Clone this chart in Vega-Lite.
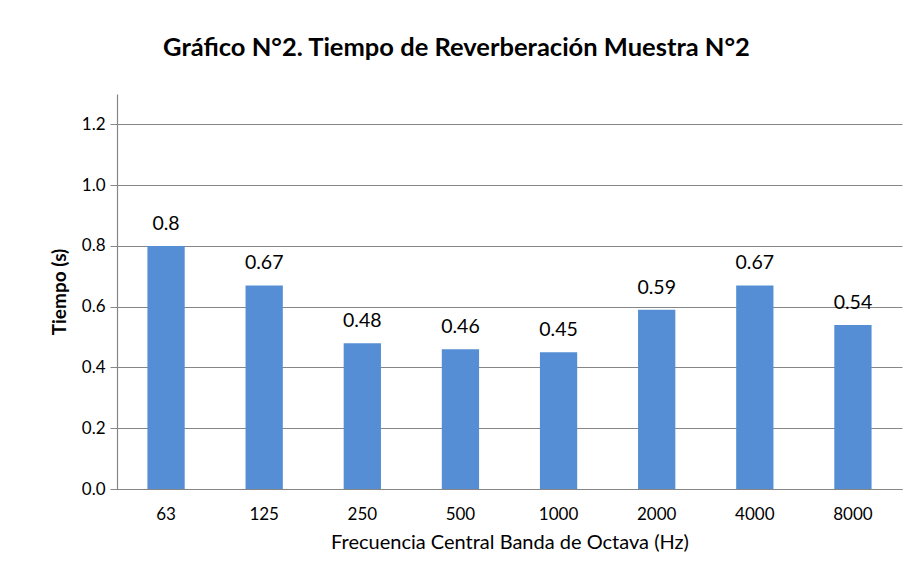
{
  "$schema": "https://vega.github.io/schema/vega-lite/v6.json",
  "autosize": "none",
  "width": 785,
  "height": 395,
  "padding": {"left": 117, "top": 94, "right": 12, "bottom": 91},
  "background": "white",
  "title": {
    "text": "Gráfico N°2. Tiempo de Reverberación Muestra N°2",
    "font": "Lato",
    "fontSize": 25.5,
    "fontWeight": "bold",
    "color": "#000000",
    "anchor": "middle",
    "frame": "group",
    "dx": -53,
    "offset": 33
  },
  "data": {
    "values": [
      {"freq": "63", "t": 0.8},
      {"freq": "125", "t": 0.67},
      {"freq": "250", "t": 0.48},
      {"freq": "500", "t": 0.46},
      {"freq": "1000", "t": 0.45},
      {"freq": "2000", "t": 0.59},
      {"freq": "4000", "t": 0.67},
      {"freq": "8000", "t": 0.54}
    ]
  },
  "encoding": {
    "x": {
      "field": "freq",
      "type": "ordinal",
      "sort": null,
      "scale": {"paddingInner": 0.62, "paddingOuter": 0.31},
      "axis": {
        "title": "Frecuencia  Central Banda  de Octava (Hz)",
        "titleFont": "Lato",
        "titleFontSize": 20,
        "titleFontWeight": "normal",
        "titleColor": "#000000",
        "titlePadding": 10,
        "labelFont": "Lato",
        "labelFontSize": 17,
        "labelColor": "#000000",
        "labelAngle": 0,
        "labelPadding": 17,
        "ticks": false,
        "domainColor": "#868686",
        "domainWidth": 1.2
      }
    },
    "y": {
      "field": "t",
      "type": "quantitative",
      "scale": {"domain": [0, 1.3], "nice": false},
      "axis": {
        "title": "Tiempo  (s)",
        "titleFont": "Lato",
        "titleFontSize": 19,
        "titleFontWeight": "bold",
        "titleColor": "#000000",
        "titlePadding": 12,
        "values": [0, 0.2, 0.4, 0.6, 0.8, 1.0, 1.2],
        "format": ".1f",
        "labelFont": "Lato",
        "labelFontSize": 17,
        "labelColor": "#000000",
        "labelPadding": 5,
        "tickSize": 7,
        "tickColor": "#868686",
        "domainColor": "#868686",
        "domainWidth": 1.2,
        "gridColor": "#868686",
        "gridWidth": 1.2
      }
    }
  },
  "layer": [
    {
      "mark": {"type": "bar", "color": "#558ed5"}
    },
    {
      "mark": {"type": "text", "baseline": "bottom", "dy": -12, "font": "Lato", "fontSize": 19.5, "color": "#000000"},
      "encoding": {
        "text": {"field": "t", "type": "quantitative", "format": "~g"}
      }
    }
  ],
  "config": {
    "view": {"stroke": null}
  }
}
